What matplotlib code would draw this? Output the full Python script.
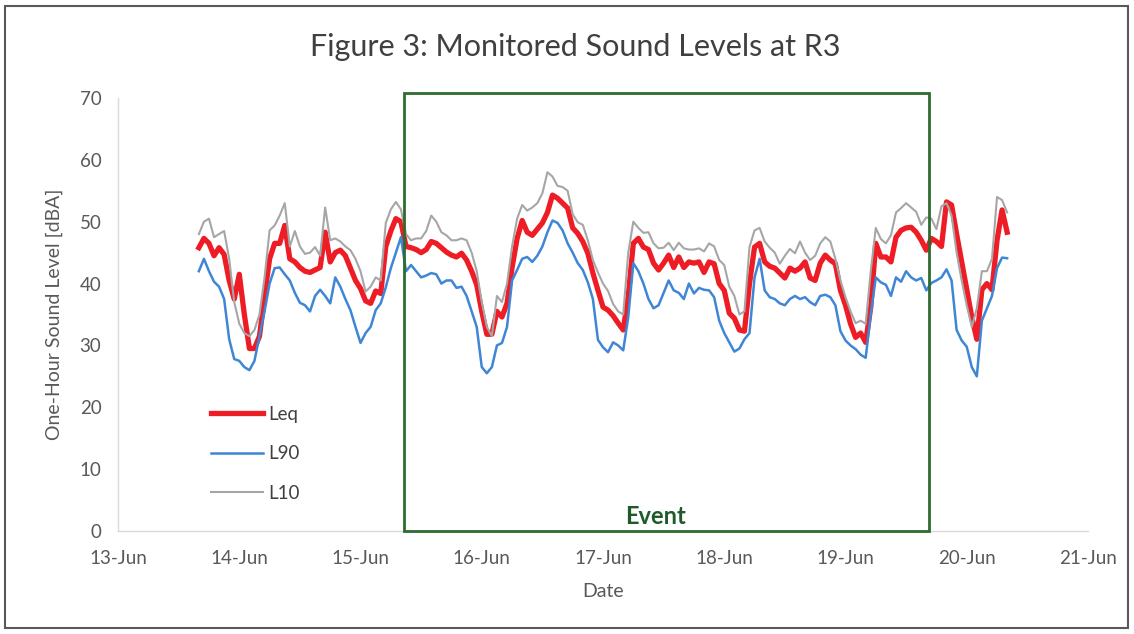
import matplotlib
matplotlib.use("Agg")
import matplotlib.pyplot as plt
import matplotlib.dates as mdates
from matplotlib.patches import Rectangle
import pandas as pd

plt.rcParams['font.family'] = ['Lato', 'DejaVu Sans']

# Hourly data, starting 13-Jun 16:00
start_time = "2019-06-13 16:00"

leq = [45.8, 47.3, 46.5, 44.5, 45.8, 44.7, 40.5, 37.5, 41.5, 35.0,
       29.5, 29.5, 31.5, 38.0, 44.0, 46.5, 46.5, 49.4, 44.0, 43.5,
       42.6, 42.0, 41.8, 42.2, 42.6, 48.3, 43.5, 45.0, 45.4, 44.5,
       42.5, 40.5, 39.2, 37.2, 36.8, 38.8, 38.4, 46.0, 48.5, 50.5,
       50.0, 46.0, 45.8, 45.5, 45.0, 45.5, 46.8, 46.5, 45.8, 45.1,
       44.6, 44.3, 44.9, 43.8, 42.0, 39.8, 35.5, 31.8, 31.8, 35.5,
       34.6, 36.8, 42.6, 47.3, 50.2, 48.3, 47.8, 48.8, 49.8, 51.5,
       54.3, 53.8, 53.0, 52.2, 49.0, 48.1, 46.8, 44.9, 41.7, 38.9,
       36.2, 35.7, 34.8, 33.6, 32.5, 38.0, 46.5, 47.3, 45.9, 45.5,
       43.3, 42.2, 43.3, 44.6, 42.6, 44.3, 42.6, 43.5, 43.3, 43.5,
       41.8, 43.5, 43.2, 40.0, 38.9, 35.2, 34.4, 32.5, 32.3, 40.0,
       45.9, 46.5, 43.5, 42.8, 42.5, 41.7, 40.9, 42.5, 42.0, 42.5,
       43.5, 40.9, 40.5, 43.3, 44.6, 43.8, 43.2, 38.9, 36.5, 33.5,
       31.3, 32.0, 30.5, 36.2, 46.5, 44.3, 44.3, 43.5, 47.5, 48.6,
       49.0, 49.1, 48.3, 47.0, 45.4, 47.3, 46.8, 46.0, 53.2, 52.7,
       48.0, 43.5, 38.9, 34.6, 31.0, 39.0, 40.0, 39.0, 47.0, 51.9,
       48.3]

l90 = [42.0, 44.0, 42.0, 40.3, 39.5, 37.5, 31.0, 27.8, 27.5, 26.5,
       26.0, 27.5, 31.5, 35.5, 40.0, 42.5, 42.6, 41.5, 40.5, 38.5,
       36.9, 36.5, 35.5, 38.0, 39.0, 38.0, 36.8, 41.0, 39.5, 37.5,
       35.7, 33.0, 30.4, 32.0, 33.0, 35.7, 36.8, 39.4, 42.5, 45.0,
       47.5, 42.0, 43.0, 42.0, 41.0, 41.3, 41.7, 41.5, 40.0, 40.5,
       40.5, 39.3, 39.5, 38.0, 35.5, 33.0, 26.5, 25.5, 26.5, 30.0,
       30.4, 33.0, 40.5, 42.2, 44.0, 44.3, 43.5, 44.5, 46.0, 48.3,
       50.2, 49.8, 48.6, 46.5, 45.0, 43.3, 42.2, 40.2, 37.5, 30.9,
       29.7, 28.9, 30.5, 30.0, 29.2, 34.6, 43.3, 42.0, 40.0, 37.5,
       36.0, 36.5, 38.5, 40.5, 38.9, 38.5, 37.5, 40.0, 38.4, 39.3,
       39.0, 38.9, 37.8, 34.0, 32.0, 30.5, 29.0, 29.5, 31.0, 32.0,
       41.0, 44.0, 38.9, 37.8, 37.5, 36.8, 36.5, 37.5, 38.0, 37.5,
       37.8, 37.0, 36.5, 38.0, 38.2, 37.8, 36.5, 32.3, 30.8, 30.0,
       29.4, 28.5, 28.0, 35.0, 41.0, 40.2, 39.8, 38.0, 41.0, 40.3,
       42.0, 41.0, 40.5, 40.9, 38.9, 40.1, 40.5, 41.0, 42.3, 40.5,
       32.5, 30.8, 29.8, 26.5, 25.0, 34.0, 36.0, 38.0, 42.5, 44.2,
       44.1]

l10 = [48.0, 50.0, 50.5, 47.5, 48.0, 48.5, 44.0, 37.0, 33.5, 32.0,
       31.5, 32.5, 35.0, 41.0, 48.6, 49.4, 51.0, 53.0, 46.0, 48.5,
       46.0, 44.8, 45.0, 45.9, 44.5, 52.3, 47.0, 47.3, 46.8, 46.0,
       45.4, 44.0, 42.0, 38.7, 39.5, 41.0, 40.5, 49.8, 52.0, 53.2,
       52.0, 48.0, 47.0, 47.3, 47.3, 48.5, 51.0, 50.0, 48.3, 47.8,
       47.0, 47.0, 47.3, 47.0, 45.0, 42.0, 37.0, 33.0, 31.5, 38.0,
       37.0, 40.0, 46.0, 50.5, 52.7, 51.8, 52.3, 53.0, 54.6, 58.0,
       57.3, 55.8, 55.6, 55.0, 51.2, 49.9, 49.5, 47.0, 43.8, 41.8,
       40.0, 38.8, 36.7, 35.5, 35.0, 45.0, 50.0, 49.0, 48.2, 48.3,
       46.5, 45.7, 45.8, 46.6, 45.4, 46.6, 45.7, 45.5, 45.5, 45.7,
       45.2, 46.5, 46.0, 43.8, 43.0, 39.5, 38.0, 35.0, 35.5, 45.9,
       48.6, 49.0, 46.8, 45.8, 45.0, 43.2, 44.5, 45.6, 44.9, 46.8,
       45.0, 43.8, 44.5, 46.5, 47.5, 46.8, 44.0, 40.5, 37.8, 35.5,
       33.6, 34.0, 33.5, 42.0, 49.0, 47.2, 46.5, 47.8, 51.5, 52.2,
       53.0, 52.3, 51.6, 49.5, 50.7, 50.5, 48.8, 52.5, 53.0, 51.0,
       45.0, 40.5, 36.5, 33.0, 36.0, 42.0, 42.0, 44.0, 54.0, 53.5,
       51.5]

series_names = ["Leq", "L90", "L10"]
x_min, x_max = "2019-06-13", "2019-06-21"
y_ticks = [0, 10, 20, 30, 40, 50, 60, 70]
event_start, event_end = "2019-06-15 08:40", "2019-06-19 16:30"
event_top = 70.8

times = pd.date_range(start_time, periods=len(leq), freq="h")

fig = plt.figure(figsize=(11.34, 6.34), dpi=100)
ax = fig.add_axes([0.1041, 0.1625, 0.8553, 0.6829])

ax.plot(times, leq, color="#ee1c24", lw=3.8, label=series_names[0], solid_joinstyle="round", zorder=3)
ax.plot(times, l90, color="#3f86d6", lw=1.8, label=series_names[1], zorder=4)
ax.plot(times, l10, color="#a6a6a6", lw=1.5, label=series_names[2], zorder=5)

ax.set_xlim(pd.Timestamp(x_min), pd.Timestamp(x_max))
ax.set_ylim(0, 70)
ax.set_yticks(y_ticks)
ax.xaxis.set_major_locator(mdates.DayLocator())
ax.xaxis.set_major_formatter(mdates.DateFormatter("%d-%b"))

for s in ["top", "right"]:
    ax.spines[s].set_visible(False)
for s in ["left", "bottom"]:
    ax.spines[s].set_color("#d9d9d9")
    ax.spines[s].set_linewidth(1.0)
ax.tick_params(axis="both", length=0, labelsize=13.5, labelcolor="#595959")
ax.tick_params(axis="x", pad=14)
ax.tick_params(axis="y", pad=12)

ax.set_ylabel("One-Hour Sound Level [dBA]", fontsize=14, color="#595959", labelpad=12)
ax.set_xlabel("Date", fontsize=14, color="#595959", labelpad=11)

x0 = mdates.date2num(pd.Timestamp(event_start))
x1 = mdates.date2num(pd.Timestamp(event_end))
ax.add_patch(Rectangle((x0, 0), x1 - x0, event_top, fill=False,
                       edgecolor="#2e6b2e", lw=2.0, clip_on=False, zorder=6))
ax.text((x0 + x1) / 2 - 0.09, 2.4, "Event", color="#1f5a2a", fontsize=17,
        fontweight="bold", ha="center", va="center")

leg = ax.legend(loc="lower left", bbox_to_anchor=(0.078, 0.028), frameon=False,
                fontsize=13.5, labelspacing=1.2, handlelength=2.8,
                handletextpad=0.25)
for t in leg.get_texts():
    t.set_color("#404040")

fig.text(0.507, 0.926, "Figure 3: Monitored Sound Levels at R3", ha="center",
         va="center", fontsize=22, color="#404040")

fig.patches.append(Rectangle((0.004, 0.01), 0.991, 0.98, transform=fig.transFigure,
                             fill=False, edgecolor="#595959", lw=1.5))

fig.savefig("out.png", dpi=100)
